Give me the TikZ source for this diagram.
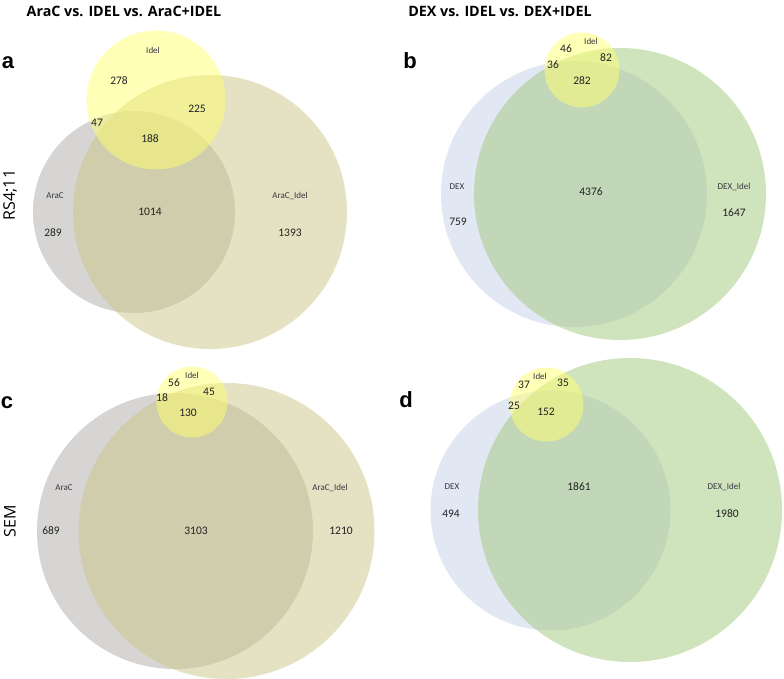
\documentclass[tikz,border=0pt]{standalone}
\usepackage{fontspec}
\setmainfont{Carlito}
\newfontfamily\titlefont{Open Sans}
\newfontfamily\letterfont{Liberation Sans}
\definecolor{aracgray}{HTML}{B0ACA8}
\definecolor{aracidel}{HTML}{CBC787}
\definecolor{idelyel}{HTML}{FFFF70}
\definecolor{dexblue}{HTML}{C7D1EB}
\definecolor{dexidel}{HTML}{A1C97D}
\definecolor{numcol}{HTML}{222222}
\definecolor{labcol}{HTML}{363640}
\begin{document}
\begin{tikzpicture}[x=1pt,y=-1pt,
  vc/.style={circle, draw=none, inner sep=0pt, minimum size=#1, fill opacity=0.5},
  num/.style={inner sep=0pt, text=numcol, font=\fontsize{11.5}{13}\selectfont},
  lab/.style={inner sep=0pt, text=labcol, font=\fontsize{9}{11}\selectfont},
  ttl/.style={inner sep=0pt, font=\titlefont\bfseries\fontsize{14.3}{17}\selectfont},
  side/.style={inner sep=0pt, rotate=90, font=\titlefont\fontsize{16}{19}\selectfont},
  plet/.style={inner sep=0pt, font=\letterfont\bfseries\fontsize{22}{26}\selectfont}]
\useasboundingbox[fill=white] (0,0) rectangle (784,679);
% titles and side labels
\node[ttl] (t1) at (124,11) {AraC vs. IDEL vs. AraC+IDEL};
\node[ttl] (t2) at (500,11) {DEX vs. IDEL vs. DEX+IDEL};
\node[side] (s1) at (10,195) {RS4;11};
\node[side] (s2) at (10,521) {SEM};
\node[plet] (la) at (8,63) {a};
\node[plet] (lb) at (410,61) {b};
\node[plet] (lc) at (7,403) {c};
\node[plet] (ld) at (406,400) {d};
% panel a
\node[vc=202pt, fill=aracgray] (aA) at (134,212) {};
\node[vc=274pt, fill=aracidel] (aAI) at (210,212) {};
\node[vc=139pt, fill=idelyel] (aI) at (156,100) {};
\node[lab] (aIl) at (153,50) {Idel};
\node[num] (a1) at (119,81) {278};
\node[num] (a2) at (197,109) {225};
\node[num] (a3) at (97,123) {47};
\node[num] (a4) at (150,139) {188};
\node[lab] (aAl) at (55,196) {AraC};
\node[num] (a5) at (53,233) {289};
\node[num] (a6) at (150,212) {1014};
\node[lab] (aAIl) at (290,196) {AraC\_Idel};
\node[num] (a7) at (290,233) {1393};
% panel b
\node[vc=266pt, fill=dexblue] (bD) at (574,194) {};
\node[vc=292pt, fill=dexidel] (bDI) at (620,194) {};
\node[vc=75pt, fill=idelyel] (bI) at (582,70) {};
\node[lab] (bIl) at (591,41) {Idel};
\node[num] (b1) at (566,49) {46};
\node[num] (b2) at (606,58) {82};
\node[num] (b3) at (553,65) {36};
\node[num] (b4) at (582,81) {282};
\node[lab] (bDl) at (457,187) {DEX};
\node[num] (b5) at (458,222) {759};
\node[num] (b6) at (591,192) {4376};
\node[lab] (bDIl) at (734,187) {DEX\_Idel};
\node[num] (b7) at (734,213) {1647};
% panel c
\node[vc=276pt, fill=aracgray] (cA) at (175,531) {};
\node[vc=296pt, fill=aracidel] (cAI) at (226.5,531) {};
\node[vc=71pt, fill=idelyel] (cI) at (192,402) {};
\node[lab] (cIl) at (192,375) {Idel};
\node[num] (c1) at (174,383) {56};
\node[num] (c2) at (209,392) {45};
\node[num] (c3) at (162,398) {18};
\node[num] (c4) at (188,413) {130};
\node[lab] (cAl) at (64,488) {AraC};
\node[num] (c5) at (51,531) {689};
\node[num] (c6) at (196,531) {3103};
\node[lab] (cAIl) at (330,488) {AraC\_Idel};
\node[num] (c7) at (341,531) {1210};
% panel d
\node[vc=240pt, fill=dexblue] (dD) at (550.5,510.5) {};
\node[vc=304pt, fill=dexidel] (dDI) at (630,510) {};
\node[vc=74pt, fill=idelyel] (dI) at (546.5,404.5) {};
\node[lab] (dIl) at (540,376) {Idel};
\node[num] (d1) at (524,385) {37};
\node[num] (d2) at (563,383) {35};
\node[num] (d3) at (514,406) {25};
\node[num] (d4) at (546,412) {152};
\node[lab] (dDl) at (452,487) {DEX};
\node[num] (d5) at (451,514) {494};
\node[num] (d6) at (579,487) {1861};
\node[lab] (dDIl) at (724,487) {DEX\_Idel};
\node[num] (d7) at (727,514) {1980};
\end{tikzpicture}
\end{document}
